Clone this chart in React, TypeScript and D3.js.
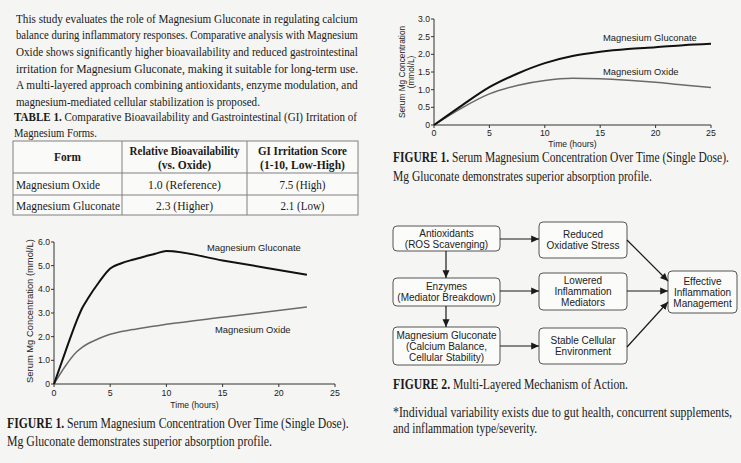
import React, { useLayoutEffect, useRef, useState } from 'react';
import * as d3 from 'd3';

// ---------- data ----------
const introLines = [
  'This study evaluates the role of Magnesium Gluconate in regulating calcium',
  'balance during inflammatory responses. Comparative analysis with Magnesium',
  'Oxide shows significantly higher bioavailability and reduced gastrointestinal',
  'irritation for Magnesium Gluconate, making it suitable for long-term use.',
  'A multi-layered approach combining antioxidants, enzyme modulation, and',
  'magnesium-mediated cellular stabilization is proposed.',
];
const tableHeader = [['Form'], ['Relative Bioavailability', '(vs. Oxide)'], ['GI Irritation Score', '(1-10, Low-High)']];
const tableRows = [
  ['Magnesium Oxide', '1.0 (Reference)', '7.5 (High)'],
  ['Magnesium Gluconate', '2.3 (Higher)', '2.1 (Low)'],
];

const leftTime = [0, 1, 2, 2.5, 3, 4, 5, 6, 7, 8, 9, 10, 15, 22.5];
const leftGluconate = [0, 1.35, 2.65, 3.2, 3.6, 4.3, 4.88, 5.1, 5.25, 5.38, 5.5, 5.62, 5.22, 4.62];
const leftOxide = [0, 0.75, 1.35, 1.55, 1.7, 1.92, 2.1, 2.22, 2.3, 2.38, 2.45, 2.52, 2.82, 3.25];
const leftYTicks = [0, 1, 2, 3, 4, 5, 6];

const rightTime = [0, 2.5, 5, 7.5, 10, 12.5, 15, 17.5, 20, 22.5, 25];
const rightGluconate = [0, 0.55, 1.07, 1.45, 1.75, 1.95, 2.07, 2.15, 2.2, 2.26, 2.3];
const rightOxide = [0, 0.48, 0.88, 1.12, 1.26, 1.32, 1.31, 1.27, 1.21, 1.13, 1.06];
const rightYTicks = [0, 0.5, 1, 1.5, 2, 2.5, 3];

const xTicks = [0, 5, 10, 15, 20, 25];

const flowNodes = [
  { id: 'anti', lines: ['Antioxidants', '(ROS Scavenging)'] },
  { id: 'enz', lines: ['Enzymes', '(Mediator Breakdown)'] },
  { id: 'mg', lines: ['Magnesium Gluconate', '(Calcium Balance,', 'Cellular Stability)'] },
  { id: 'red', lines: ['Reduced', 'Oxidative Stress'] },
  { id: 'low', lines: ['Lowered', 'Inflammation', 'Mediators'] },
  { id: 'stab', lines: ['Stable Cellular', 'Environment'] },
  { id: 'eff', lines: ['Effective', 'Inflammation', 'Management'] },
];
const flowEdges = [
  ['anti', 'red'], ['enz', 'low'], ['mg', 'stab'], ['anti', 'enz'], ['enz', 'mg'],
  ['red', 'eff'], ['low', 'eff'], ['stab', 'eff'],
];

// ---------- layout ----------
const SERIF = '"Liberation Serif", "Times New Roman", serif';
const SANS = '"Liberation Sans", Arial, sans-serif';

const boxes: Record<string, { x: number; y: number; w: number; h: number }> = {
  anti: { x: 393, y: 226, w: 107, h: 25 },
  enz: { x: 393, y: 278, w: 107, h: 28 },
  mg: { x: 393, y: 327, w: 107, h: 38 },
  red: { x: 539, y: 222, w: 88, h: 36 },
  low: { x: 539, y: 273, w: 88, h: 37 },
  stab: { x: 539, y: 328, w: 88, h: 36 },
  eff: { x: 668, y: 271, w: 69, h: 42 },
};
const edgePts: Record<string, number[]> = {
  'anti-red': [500, 239, 539, 239],
  'enz-low': [500, 291, 539, 291],
  'mg-stab': [500, 346, 539, 346],
  'anti-enz': [446, 251, 446, 278],
  'enz-mg': [446, 306, 446, 327],
  'red-eff': [627, 240, 668, 281],
  'low-eff': [627, 291, 668, 291],
  'stab-eff': [627, 347, 668, 302],
};

// Serif text squeezed horizontally to a target width (the reference type is condensed)
function FT({ x, y, w, size = 13.5, anchor = 'start', children, weight }: any) {
  const ref = useRef<SVGTextElement>(null);
  const [s, setS] = useState(0.8);
  useLayoutEffect(() => {
    if (ref.current) {
      const n = ref.current.getComputedTextLength();
      if (n > 0) setS(w / n);
    }
  }, [w]);
  return (
    <text ref={ref} transform={`translate(${x},${y}) scale(${s},1)`} fontFamily={SERIF}
      fontSize={size} textAnchor={anchor} fontWeight={weight} fill="#1a1a1a">
      {children}
    </text>
  );
}

function Chart({ x0, x1, yb, yt, yMax, yTicks, fmt, time, gluc, oxide, glucLabel, oxLabel, yLabelLines, yLabelX, yLabelY, yLabelSize, tickY, titleY }: any) {
  const xs = d3.scaleLinear().domain([0, 25]).range([x0, x1]);
  const ys = d3.scaleLinear().domain([0, yMax]).range([yb, yt]);
  const line = d3.line<number>().x((_, i) => xs(time[i])).y((d) => ys(d)).curve(d3.curveMonotoneX);
  return (
    <g fontFamily={SANS} fill="#222">
      <line x1={x0} x2={x0} y1={yb} y2={yt} stroke="#333" strokeWidth={1} />
      <line x1={x0} x2={x1} y1={yb} y2={yb} stroke="#333" strokeWidth={1} />
      {yTicks.map((t: number) => (
        <g key={'y' + t}>
          <line x1={x0 - 3} x2={x0} y1={ys(t)} y2={ys(t)} stroke="#333" />
          <text x={x0 - 4} y={ys(t) + 3} fontSize={8.6} textAnchor="end">{fmt(t)}</text>
        </g>
      ))}
      {xTicks.map((t) => (
        <g key={'x' + t}>
          <line x1={xs(t)} x2={xs(t)} y1={yb} y2={yb + 3} stroke="#333" />
          <text x={xs(t)} y={tickY} fontSize={8.8} textAnchor="middle">{t}</text>
        </g>
      ))}
      <text x={(x0 + x1) / 2} y={titleY} fontSize={8.6} textAnchor="middle">Time (hours)</text>
      {yLabelLines.map((l: string, i: number) => (
        <text key={l} transform={`translate(${yLabelX + i * 8.5},${yLabelY}) rotate(-90)`} fontSize={yLabelSize} textAnchor="middle">{l}</text>
      ))}
      <path d={line(oxide) || ''} fill="none" stroke="#6a6a6a" strokeWidth={1.5} />
      <path d={line(gluc) || ''} fill="none" stroke="#111" strokeWidth={2} />
      <text x={glucLabel[0]} y={glucLabel[1]} fontSize={9.4}>Magnesium Gluconate</text>
      <text x={oxLabel[0]} y={oxLabel[1]} fontSize={9.4}>Magnesium Oxide</text>
    </g>
  );
}

export default function App() {
  const introY = [22.5, 39.2, 55.8, 72.5, 89.2, 105.8];
  const introW = [342, 342, 342, 342, 342, 244];
  const colX = [13, 122, 247, 358];
  const rowY = [141, 173, 195, 215];
  const headW = [27, 110, 89];
  const headW2 = [0, 53, 85];
  const cellW = [[84, 73, 46], [104, 57, 44]];
  return (
    <svg width={741} height={463} style={{ position: 'absolute', left: 0, top: 0 }}>
      <defs>
        <marker id="ah" viewBox="0 0 10 10" refX={10} refY={5} markerWidth={6.5} markerHeight={6.5} orient="auto">
          <path d="M0,0.5L10,5L0,9.5z" fill="#1a1a1a" />
        </marker>
      </defs>
      <rect width={741} height={463} fill="#f5f5f3" />

      {/* intro paragraph */}
      {introLines.map((l, i) => (
        <FT key={i} x={16} y={introY[i]} w={introW[i]}>{l}</FT>
      ))}
      <FT x={14} y={120.5} w={343}>
        <tspan fontWeight="bold">TABLE 1.</tspan> Comparative Bioavailability and Gastrointestinal (GI) Irritation of
      </FT>
      <FT x={14} y={136.5} w={83}>Magnesium Forms.</FT>

      {/* table */}
      <g>
        <rect x={colX[0]} y={rowY[0]} width={colX[3] - colX[0]} height={rowY[3] - rowY[0]} fill="#fafaf9" stroke="#808080" />
        {[1, 2].map((r) => (
          <line key={r} x1={colX[0]} x2={colX[3]} y1={rowY[r]} y2={rowY[r]} stroke="#808080" />
        ))}
        {[1, 2].map((c) => (
          <line key={c} x1={colX[c]} x2={colX[c]} y1={rowY[0]} y2={rowY[3]} stroke="#808080" />
        ))}
        {tableHeader.map((h, c) => {
          const cx = (colX[c] + colX[c + 1]) / 2;
          return h.length === 1 ? (
            <FT key={c} x={cx} y={161} w={headW[c]} anchor="middle" weight="bold" size={13}>{h[0]}</FT>
          ) : (
            <g key={c}>
              <FT x={cx} y={155} w={headW[c]} anchor="middle" weight="bold" size={13}>{h[0]}</FT>
              <FT x={cx} y={169} w={headW2[c]} anchor="middle" weight="bold" size={13}>{h[1]}</FT>
            </g>
          );
        })}
        {tableRows.map((row, r) => (
          <g key={r}>
            {row.map((v, c) => {
              const cy = (rowY[r + 1] + rowY[r + 2]) / 2 + 4.5;
              return c === 0 ? (
                <FT key={c} x={16} y={cy} w={cellW[r][c]} size={13}>{v}</FT>
              ) : (
                <FT key={c} x={(colX[c] + colX[c + 1]) / 2} y={cy} w={cellW[r][c]} anchor="middle" size={13}>{v}</FT>
              );
            })}
          </g>
        ))}
      </g>

      {/* left chart */}
      <Chart x0={54} x1={335} yb={384} yt={242} yMax={6} yTicks={leftYTicks}
        fmt={(t: number) => (t === 0 ? '0' : d3.format('.1f')(t))}
        time={leftTime} gluc={leftGluconate} oxide={leftOxide}
        glucLabel={[207, 250.5]} oxLabel={[215, 332.5]}
        yLabelLines={['Serum Mg Concentration (mmol/L)']} yLabelX={33} yLabelY={311} yLabelSize={9.4}
        tickY={396} titleY={408} />
      <FT x={7} y={427.5} w={342} size={14.5}>
        <tspan fontWeight="bold">FIGURE 1.</tspan> Serum Magnesium Concentration Over Time (Single Dose).
      </FT>
      <FT x={7} y={445.5} w={265} size={14.5}>Mg Gluconate demonstrates superior absorption profile.</FT>

      {/* right chart */}
      <Chart x0={434} x1={711} yb={125} yt={19} yMax={3} yTicks={rightYTicks}
        fmt={(t: number) => (t === 0 ? '0' : d3.format('.1f')(t))}
        time={rightTime} gluc={rightGluconate} oxide={rightOxide}
        glucLabel={[603, 41]} oxLabel={[603, 75]}
        yLabelLines={['Serum Mg Concentration', '(mmol/L)']} yLabelX={405} yLabelY={72} yLabelSize={8.3}
        tickY={136} titleY={147} />
      <FT x={393} y={161.5} w={336} size={14.5}>
        <tspan fontWeight="bold">FIGURE 1.</tspan> Serum Magnesium Concentration Over Time (Single Dose).
      </FT>
      <FT x={393} y={181} w={259} size={14.5}>Mg Gluconate demonstrates superior absorption profile.</FT>

      {/* flow diagram */}
      <g fontFamily={SANS}>
        {flowNodes.map((n) => {
          const b = boxes[n.id];
          const cy = b.y + b.h / 2;
          const lh = 11;
          const start = cy - ((n.lines.length - 1) * lh) / 2;
          return (
            <g key={n.id}>
              <rect x={b.x} y={b.y} width={b.w} height={b.h} rx={4} fill="#fbfbfa" stroke="#555" strokeWidth={1} />
              {n.lines.map((l, i) => (
                <text key={i} x={b.x + b.w / 2} y={start + i * lh + 3.6} fontSize={10} textAnchor="middle" fill="#222">{l}</text>
              ))}
            </g>
          );
        })}
        {flowEdges.map(([a, b]) => {
          const p = edgePts[a + '-' + b];
          return <line key={a + b} x1={p[0]} y1={p[1]} x2={p[2]} y2={p[3]} stroke="#1a1a1a" strokeWidth={1.2} markerEnd="url(#ah)" />;
        })}
      </g>

      <FT x={393} y={388.5} w={235} size={14}>
        <tspan fontWeight="bold">FIGURE 2.</tspan> Multi-Layered Mechanism of Action.
      </FT>
      <FT x={393} y={416.5} w={339} size={14}>*Individual variability exists due to gut health, concurrent supplements,</FT>
      <FT x={393} y={433} w={144} size={14}>and inflammation type/severity.</FT>
    </svg>
  );
}
